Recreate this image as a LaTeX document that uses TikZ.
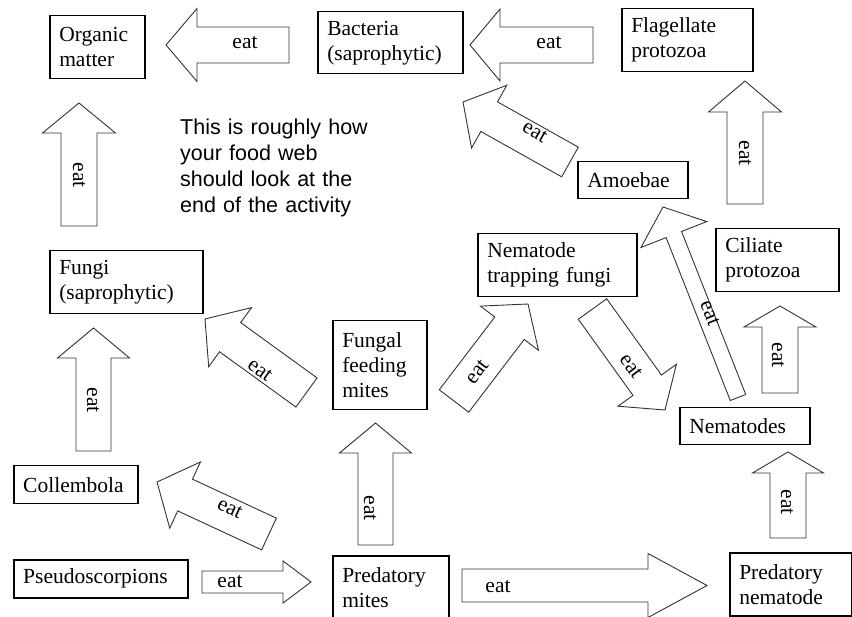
\documentclass[tikz,border=0pt]{standalone}
\usepackage{fontspec}
\setmainfont{Liberation Serif}
\newfontfamily\notefamily{Liberation Sans}
\usetikzlibrary{calc}
\def\webfont{\fontsize{21.5}{25}\selectfont}
\def\notefont{\notefamily\fontsize{21.5}{26}\selectfont}
% block arrow: [name](tail)(tip)(shaft half width:head half width:head length)
\def\blockarrow[#1](#2)(#3)(#4:#5:#6){
	\coordinate (#1-t) at (#2);
	\coordinate (#1-p) at (#3);
	\coordinate (#1-b) at ($(#1-p)!#6pt!(#1-t)$);
	\draw[arrowline] ($(#1-t)!#4pt!90:(#1-p)$) -- ($(#1-b)!#4pt!-90:(#1-t)$) -- ($(#1-b)!#5pt!-90:(#1-t)$) -- (#1-p) -- ($(#1-b)!#5pt!90:(#1-t)$) -- ($(#1-b)!#4pt!90:(#1-t)$) -- ($(#1-t)!#4pt!-90:(#1-p)$) -- cycle;
}

\begin{document}
\begin{tikzpicture}[x=1pt, y=-1pt,
	box/.style={draw, line width=1.5pt, anchor=north west, inner xsep=9.5pt, inner ysep=0pt, align=left, font=\webfont},
	arrowline/.style={draw=black!80, line width=0.9pt, fill=white, line join=miter},
	eatlabel/.style={font=\webfont, inner sep=0pt}]
			%%%%% START %%%%%
			
			\useasboundingbox (0,0) rectangle (852,617);
			
			% organisms
			\node[box, text width=76pt, minimum height=63pt] (organic) at (49,15) {Organic\\matter};
			\node[box, text width=126pt, minimum height=62pt] (bacteria) at (317,11) {Bacteria\\(saprophytic)};
			\node[box, text width=112pt, minimum height=63pt] (flagellate) at (621,8) {Flagellate\\protozoa};
			\node[box, text width=91pt, minimum height=37pt] (amoebae) at (577,161) {Amoebae};
			\node[box, text width=140pt, minimum height=63pt] (trapping) at (477,233) {Nematode\\trapping fungi};
			\node[box, text width=104pt, minimum height=63pt] (ciliate) at (715,228) {Ciliate\\protozoa};
			\node[box, text width=134pt, minimum height=63pt] (fungi) at (49,250) {Fungi\\(saprophytic)};
			\node[box, text width=75pt, minimum height=89pt] (fungalmites) at (332,320) {Fungal\\feeding\\mites};
			\node[box, text width=105pt, minimum height=38pt] (collembola) at (13,465) {Collembola};
			\node[box, text width=155pt, minimum height=38pt] (pseudo) at (13,559) {Pseudoscorpions};
			\node[box, text width=97pt, minimum height=63pt] (predmites) at (332,555) {Predatory\\mites};
			\node[box, text width=111pt, minimum height=37pt] (nematodes) at (679,407) {Nematodes};
			\node[box, text width=103pt, minimum height=63pt] (prednematode) at (729,552) {Predatory\\nematode};
			
			\node[anchor=base west, text width=220pt, align=left, inner sep=0pt, font=\notefont] (note) at (180,135) {This is roughly how\\your food web\\should look at the\\end of the activity};
			
			% arrows
			\blockarrow[a1](289,45)(166,45)(18:36.5:31)
			\blockarrow[a2](593,45)(470,45)(18:36:30)
			\blockarrow[a3](570,162)(463,102)(17:36:30)
			\blockarrow[a4](79,226)(79,103)(18:36.5:30)
			\blockarrow[a5](745,204)(745,81)(18:36.5:31)
			\blockarrow[a6](93.5,451)(93.5,328)(17.5:36:30)
			\blockarrow[a7](306.5,392.5)(205,319)(18:36.5:31)
			\blockarrow[a8](269,534)(157,482)(17.5:36.5:31)
			\blockarrow[a9](202,582)(311,582)(11:21:28)
			\blockarrow[a10](375.5,545)(375.5,423)(17.5:36:30)
			\blockarrow[a11](462,585.5)(707,585.5)(16.5:32:59)
			\blockarrow[a12](454,401)(528,304)(18.5:36.5:30.5)
			\blockarrow[a13](592.5,309)(665,410)(17.5:36:30.5)
			\blockarrow[a14](738,397.5)(663,207)(8.3:35.3:29.6)
			\blockarrow[a15](780,393)(780,306)(18:36:21)
			\blockarrow[a16](788,538)(788,452)(18:35.5:21)
			
			\node[eatlabel] (l1) at (245,43) {eat};
			\node[eatlabel] (l2) at (549,43) {eat};
			\node[eatlabel, rotate=-30] (l3) at (535,132) {eat};
			\node[eatlabel, rotate=-90] (l4) at (79,175) {eat};
			\node[eatlabel, rotate=-90] (l5) at (745,153) {eat};
			\node[eatlabel, rotate=-90] (l6) at (93,400) {eat};
			\node[eatlabel, rotate=-36] (l7) at (260,370) {eat};
			\node[eatlabel, rotate=-25] (l8) at (230,508) {eat};
			\node[eatlabel] (l9) at (230,582) {eat};
			\node[eatlabel, rotate=-90] (l10) at (370,508) {eat};
			\node[eatlabel] (l11) at (498,587) {eat};
			\node[eatlabel, rotate=53] (l12) at (477,372) {eat};
			\node[eatlabel, rotate=-54] (l13) at (631,366) {eat};
			\node[eatlabel, rotate=-68.5] (l14) at (710,313) {eat};
			\node[eatlabel, rotate=-90] (l15) at (778,355) {eat};
			\node[eatlabel, rotate=-90] (l16) at (787,502) {eat};
			
			%%%%% END %%%%%
\end{tikzpicture}
\end{document}
